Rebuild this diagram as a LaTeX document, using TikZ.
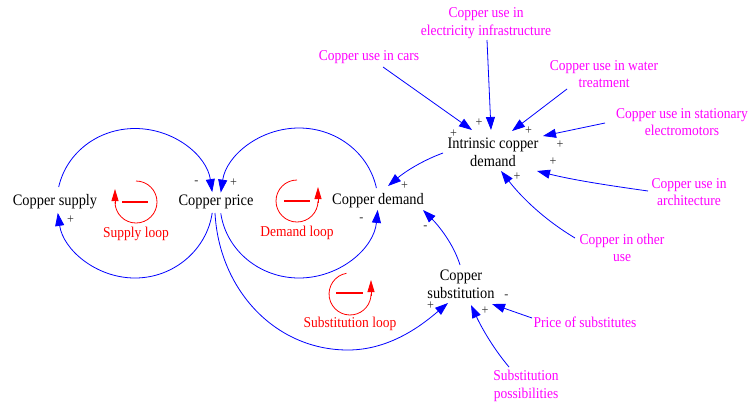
\documentclass[tikz,border=0pt]{standalone}
\usepackage{fontspec}
\setmainfont{Liberation Serif}[FakeStretch=0.9]
\usetikzlibrary{arrows.meta}
\definecolor{linkblue}{RGB}{0,0,255}
\definecolor{extpink}{RGB}{255,0,255}
\definecolor{loopred}{RGB}{255,0,0}
\tikzset{
  var/.style={inner sep=0pt, align=center, font=\fontsize{16}{18}\selectfont, text=black},
  ext/.style={inner sep=0pt, align=center, font=\fontsize{15}{17.5}\selectfont, text=extpink},
  looplabel/.style={inner sep=0pt, font=\fontsize{15}{17}\selectfont, text=loopred},
  sign/.style={inner sep=0pt, font=\fontsize{13.5}{14}\selectfont, text=black!80},
  link/.style={draw=linkblue, line width=0.8pt, -{Triangle[length=13pt,width=9pt]}},
  loopring/.style={draw=loopred, line width=0.8pt},
  looptip/.style={draw=loopred, line width=0.8pt, -{Triangle[length=12pt,width=7pt]}},
  loopbar/.style={draw=loopred, line width=2pt},
}
\begin{document}
\begin{tikzpicture}[x=1pt,y=1pt]
\useasboundingbox (0,0) rectangle (751,-408);

% model variables
\node[var] (sup)   at (55,-202)  {Copper supply};
\node[var] (price) at (216,-202) {Copper price};
\node[var] (dem)   at (378,-201) {Copper demand};
\node[var] (intr)  at (493,-152) {Intrinsic copper\\demand};
\node[var] (subst) at (461,-284) {Copper\\substitution};

% exogenous inputs
\node[ext] (cars)  at (369,-57)  {Copper use in cars};
\node[ext] (elec)  at (486,-23)  {Copper use in\\electricity infrastructure};
\node[ext] (water) at (604,-74)  {Copper use in water\\treatment};
\node[ext] (stat)  at (682,-122) {Copper use in stationary\\electromotors};
\node[ext] (arch)  at (689,-192) {Copper use in\\architecture};
\node[ext] (other) at (622,-248) {Copper in other\\use};
\node[ext] (pos)   at (585,-322) {Price of substitutes};
\node[ext] (poss)  at (526,-386) {Substitution\\possibilities};

% feedback links: the two loop circles, each built from two Bezier quarter arcs
\draw[link] ([shift={(3.7,15)}]sup.center)
   .. controls +(7.7,34.4) and +(-36.8,0) .. ([shift={(80,73.5)}]sup.center)
   .. controls +(38.9,0) and +(-5.4,36.8) .. ([shift={(-3.8,9.9)}]price.center);
\draw[link] ([shift={(-3.8,-10.9)}]price.center)
   .. controls +(-5.4,-36.8) and +(38.9,0) .. ([shift={(80,-76)}]sup.center)
   .. controls +(-38.9,0) and +(5.4,-36.8) .. ([shift={(2.8,-10.9)}]sup.center);
\draw[link] ([shift={(-1.6,12.95)}]dem.center)
   .. controls +(-7.5,34.9) and +(37.6,0) .. ([shift={(-79,73)}]dem.center)
   .. controls +(-39.4,0) and +(5.5,37) .. ([shift={(4.8,9.4)}]price.center);
\draw[link] ([shift={(4.8,-11.4)}]price.center)
   .. controls +(5.5,-37) and +(-39.4,0) .. ([shift={(83,-76)}]price.center)
   .. controls +(40.8,0) and +(-3.8,-38.6) .. ([shift={(-0.3,-8.9)}]dem.center);
\draw[link] ([shift={(-1,-11)}]price.center)
   .. controls +(4,-76) and +(-73.5,0) .. ([shift={(132,-148)}]price.center)
   .. controls +(45,0) and +(220:28) .. ([shift={(-13,-19)}]subst.center);
\draw[link] ([shift={(-1,19)}]subst.center) .. controls +(107:22) and +(-45:22) .. ([shift={(45,-9)}]dem.center);
\draw[link] ([shift={(-50,-1)}]intr.center) .. controls +(200:22) and +(40:22) .. ([shift={(10,15)}]dem.center);

% input links
\draw[link] ([shift={(14,-10)}]cars.center) -- ([shift={(-21,22)}]intr.center);
\draw[link] ([shift={(1,-17)}]elec.center) -- ([shift={(-2,22)}]intr.center);
\draw[link] ([shift={(-37,-15)}]water.center) -- ([shift={(19,21)}]intr.center);
\draw[link] ([shift={(-77,-1)}]stat.center) -- ([shift={(50,16)}]intr.center);
\draw[link] ([shift={(-41,1)}]arch.center) .. controls +(172:38) and +(-14:38) .. ([shift={(44,-19)}]intr.center);
\draw[link] ([shift={(-47,10)}]other.center) .. controls +(149:35) and +(-52:35) .. ([shift={(8,-19)}]intr.center);
\draw[link] ([shift={(-53,4)}]pos.center) -- ([shift={(31,-20)}]subst.center);
\draw[link] ([shift={(-17,19)}]poss.center) .. controls +(130:25) and +(-65:25) .. ([shift={(10,-21)}]subst.center);

% link polarities
\node[sign] (pol1)  at (196.5,-183) {-};
\node[sign] (pol2)  at (233.5,-183) {+};
\node[sign] (pol3)  at (70.5,-220)  {+};
\node[sign] (pol4)  at (361.5,-220) {-};
\node[sign] (pol5)  at (404.5,-186) {+};
\node[sign] (pol6)  at (425.5,-228) {-};
\node[sign] (pol7)  at (430.5,-306) {+};
\node[sign] (pol8)  at (485,-311)   {+};
\node[sign] (pol9)  at (506.5,-297) {-};
\node[sign] (pol10) at (479,-123)   {+};
\node[sign] (pol11) at (453.5,-134) {+};
\node[sign] (pol12) at (528.5,-131) {+};
\node[sign] (pol13) at (560,-145)   {+};
\node[sign] (pol14) at (553,-162)   {+};
\node[sign] (pol15) at (517,-177)   {+};

% loop markers
\draw[loopring] (136,-181) arc[start angle=90,end angle=-180,radius=21];
\draw[looptip] (115,-204) -- (115,-189);
\draw[loopbar] (122,-202) -- (148,-202);
\node[looplabel] (supplyloop) at (136,-234) {Supply loop};

\draw[loopring] (297,-180) arc[start angle=90,end angle=360,radius=21];
\draw[looptip] (318,-203) -- (318,-187);
\draw[loopbar] (284,-201) -- (310,-201);
\node[looplabel] (demandloop) at (297,-233) {Demand loop};

\draw[loopring] (346.4,-273.3) arc[start angle=100,end angle=360,radius=21];
\draw[looptip] (371,-296) -- (371,-280);
\draw[loopbar] (336,-293) -- (363,-293);
\node[looplabel] (substloop) at (350,-324) {Substitution loop};
\end{tikzpicture}
\end{document}
